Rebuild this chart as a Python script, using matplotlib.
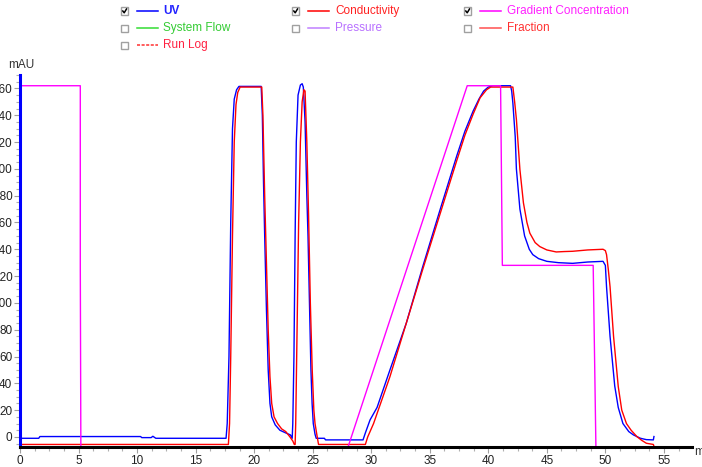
import matplotlib
matplotlib.use("Agg")
import matplotlib.pyplot as plt
from matplotlib.lines import Line2D
from matplotlib.patches import Rectangle
from matplotlib.ticker import MultipleLocator

plt.rcParams['font.family'] = ['Liberation Sans', 'DejaVu Sans']

# ---------------- data ----------------
uv_t = [0, 1.6, 1.7, 10.3, 10.4, 11.2, 11.35, 11.6, 17.6, 17.7, 17.85, 18.0, 18.15, 18.3,
        18.5, 18.7, 20.6, 20.7, 20.8, 20.9, 21.05, 21.2, 21.35, 21.5, 21.8, 22.2, 22.7,
        23.1, 23.25, 23.3, 23.4, 23.5, 23.6, 23.75, 23.95, 24.1, 24.2, 24.35, 24.5, 24.6,
        24.75, 24.85, 24.95, 25.05, 25.2, 25.3, 26.0, 26.1, 29.3, 29.5, 29.9, 30.5, 31.6,
        33.0, 34.4, 35.9, 37.3, 38.0, 38.7, 39.2, 39.6, 40.0, 40.4, 41.9, 42.0, 42.1, 42.3,
        42.4, 42.7, 43.1, 43.5, 43.8, 44.3, 45.0, 46.0, 47.2, 48.5, 49.8, 50.0, 50.1, 50.4,
        50.8, 51.1, 51.5, 52.0, 52.4, 53.0, 53.5, 54.1, 54.15]
uv_v = [-1, -1, 0.3, 0.3, -0.5, -0.5, 0.5, -1, -1, 10, 60, 160, 230, 252,
        259, 261.5, 261.5, 240, 190, 150, 95, 50, 25, 15, 9, 5, 3,
        1.5, -1, 10, 60, 150, 220, 255, 262.5, 263.5, 261, 235, 180, 150,
        90, 50, 25, 10, 2, -1, -1, -2.2, -2.2, 3, 12.7, 22, 50,
        85, 127, 170, 209.5, 228, 243, 252, 258, 261, 262, 262, 258, 249, 224,
        200, 170, 150, 140, 136, 133, 131, 130, 129.5, 130.5, 131, 128, 112, 75,
        38, 22, 10, 4, 1.5, -1, -2, -2.2, 0.3]

cond_t = [0, 17.8, 17.9, 18.0, 18.15, 18.3, 18.45, 18.6, 18.8, 20.65, 20.75, 20.9, 21.05,
          21.2, 21.35, 21.5, 21.7, 22.0, 22.35, 22.7, 23.06, 23.3, 23.43, 23.5, 23.55, 23.65,
          23.8, 23.95, 24.1, 24.25, 24.35, 24.5, 24.65, 24.8, 24.96, 25.1, 25.2, 25.35, 25.5,
          29.5, 29.7, 30.2, 31.6, 34.4, 37.3, 38.0, 38.7, 39.3, 39.85, 40.2, 42.1, 42.25,
          42.4, 42.7, 43.0, 43.3, 43.55, 44.0, 44.4, 45.0, 45.8, 46.5, 47.2, 48.5, 49.8,
          50.0, 50.1, 50.25, 50.4, 50.7, 51.1, 51.4, 51.8, 52.2, 52.7, 53.1, 53.5, 54.1, 54.15]
cond_v = [-5.6, -5.6, 10, 60, 150, 220, 248, 257, 261, 261, 240, 180, 130,
          80, 45, 25, 15, 10, 6, 4, 0, -3, -5.6, -5.6, 10, 70,
          160, 220, 250, 259, 258, 220, 165, 100, 50, 20, 10, 2, -5.6,
          -5.6, 0, 10, 45, 125, 206, 225, 240.7, 253, 259, 261, 261, 250,
          237, 199.5, 174.7, 160, 152, 145, 142, 139.5, 138, 138.3, 138.5, 139.5, 140,
          139, 136, 125, 112, 75, 37.6, 20, 10, 5, 0.2, -2.5, -4.7, -5.6, -7]

grad_t = [0.05, 5.15, 5.15, 5.2, 28.0, 38.2, 41.05, 41.2, 48.96, 49.2]
grad_v = [262, 262, 127, -12, -8, 262, 262, 128, 128, -12]

x_ticks = [0, 5, 10, 15, 20, 25, 30, 35, 40, 45, 50, 55]
y_ticks = [0, 20, 40, 60, 80, 100, 120, 140, 160, 180, 200, 220, 240, 260]

legend_items = [
    # label, line colour, text colour, checked, dashed, bold, column, row
    ("UV", "#0000ff", "#2222ff", True, False, True, 0, 0),
    ("Conductivity", "#ff0000", "#ff2222", True, False, False, 1, 0),
    ("Gradient Concentration", "#ff00ff", "#ff22ff", True, False, False, 2, 0),
    ("System Flow", "#33dd33", "#33cc33", False, False, False, 0, 1),
    ("Pressure", "#c080ff", "#b870ff", False, False, False, 1, 1),
    ("Fraction", "#ff5050", "#ff3030", False, False, False, 2, 1),
    ("Run Log", "#ff3030", "#ff2040", False, True, False, 0, 2),
]

# ---------------- figure ----------------
W, H = 702, 467
fig = plt.figure(figsize=(W / 100, H / 100), dpi=100)
fig.patch.set_facecolor("white")


def fx(x):
    return x / W


def fy(y):
    return 1 - y / H


ax_left, ax_right, ax_top, ax_bottom = 20, 692, 75, 447
ax = fig.add_axes([fx(ax_left), fy(ax_bottom), (ax_right - ax_left) / W, (ax_bottom - ax_top) / H])
ax.set_xlim(0, 57.4)
ax.set_ylim(-7.5, 270)

ax.plot(uv_t, uv_v, color="#0000ff", lw=1.0, zorder=3)
ax.plot(cond_t, cond_v, color="#ff0000", lw=1.0, zorder=4)
ax.plot(grad_t, grad_v, color="#ff00ff", lw=1.0, zorder=5)

for s in ("top", "right"):
    ax.spines[s].set_visible(False)
ax.spines["left"].set_color("#0000ff")
ax.spines["left"].set_linewidth(2.2)
ax.spines["bottom"].set_color("black")
ax.spines["bottom"].set_linewidth(2.2)
ax.spines["left"].set_zorder(6)
ax.spines["bottom"].set_zorder(6)

ax.set_xticks(x_ticks)
ax.set_xticklabels([str(v) for v in x_ticks])
ax.set_yticks(y_ticks)
ax.set_yticklabels([str(v) for v in y_ticks])
ax.xaxis.set_minor_locator(MultipleLocator(1.25))
ax.yaxis.set_minor_locator(MultipleLocator(5))
ax.tick_params(axis="both", which="major", length=4, width=0.8, color="#a0a0a0",
               labelsize=8.5, labelcolor="#222222", direction="out")
ax.tick_params(axis="both", which="minor", length=3, width=0.8, color="#b0b0b0", direction="out")
ax.tick_params(axis="y", pad=1.5)
ax.tick_params(axis="x", pad=2)

fig.text(fx(21), fy(65), "mAU", ha="center", va="center", fontsize=8.5, color="#333333")
fig.text(fx(694), fy(452), "min", ha="left", va="center", fontsize=8.5, color="#333333")

# ---------------- legend (checkbox panel) ----------------
col_box = [121, 292, 464]
col_line = [(137, 158), (308, 329), (480, 501)]
col_text = [163, 335, 507]
row_y = [11, 28, 45]

for label, lc, tc, checked, dashed, bold, c, r in legend_items:
    y = row_y[r]
    bx = col_box[c]
    fig.add_artist(Rectangle((fx(bx), fy(y + 3.5)), 7 / W, 7 / H, transform=fig.transFigure,
                             facecolor="white", edgecolor="#a0a0a0", lw=1.0))
    if checked:
        fig.add_artist(Line2D([fx(bx + 1.8), fx(bx + 3.2), fx(bx + 5.5)],
                              [fy(y), fy(y + 1.8), fy(y - 2)],
                              transform=fig.transFigure, color="black", lw=1.1))
    x0, x1 = col_line[c]
    fig.add_artist(Line2D([fx(x0), fx(x1)], [fy(y), fy(y)], transform=fig.transFigure,
                          color=lc, lw=1.1, linestyle=(0, (2, 1)) if dashed else "-"))
    fig.text(fx(col_text[c]), fy(y), label, ha="left", va="center", fontsize=8.5,
             color=tc, fontweight="bold" if bold else "normal")

fig.savefig("out.png", dpi=100, facecolor="white")
